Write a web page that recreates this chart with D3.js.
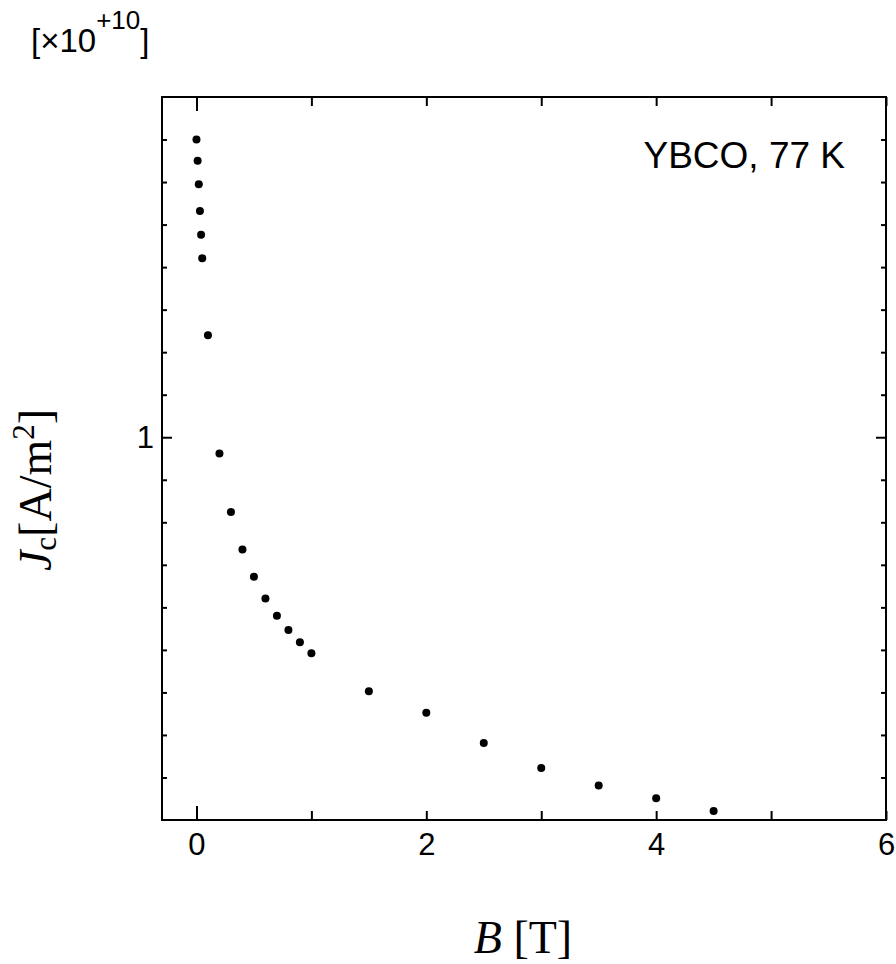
<!DOCTYPE html>
<html>
<head>
<meta charset="utf-8">
<script src="https://cdn.jsdelivr.net/npm/d3@7"></script>
<style>
  body { margin: 0; background: white; }
  svg { display: block; }
</style>
</head>
<body>
<script>
// data: B in tesla, Jc in units of 1e10 A/m^2
const fieldB = [0, 0.01, 0.02, 0.03, 0.04, 0.05, 0.1, 0.2, 0.3, 0.4, 0.5, 0.6, 0.7, 0.8, 0.9, 1.0, 1.5, 2.0, 2.5, 3.0, 3.5, 4.0, 4.5]
const currentJc = [1.700, 1.650, 1.595, 1.532, 1.476, 1.421, 1.240, 0.962, 0.824, 0.736, 0.672, 0.621, 0.580, 0.547, 0.518, 0.492, 0.403, 0.352, 0.281, 0.222, 0.181, 0.151, 0.121]

const xTicks = [0, 1, 2, 3, 4, 5, 6]
const xLabelled = [0, 2, 4, 6]
const yMinorTicks = [0.2, 0.3, 0.4, 0.5, 0.6, 0.7, 0.8, 0.9, 1.1, 1.2, 1.3, 1.4, 1.5, 1.6, 1.7]
const yMajorTicks = [1]

const width = 896
const height = 964
const plotLeft = 162, plotRight = 886, plotTop = 97, plotBottom = 820
const sans = "'Liberation Sans', Arial, sans-serif"
const serif = "'Liberation Serif', 'Times New Roman', serif"

const svg = d3.select("body").append("svg")
    .attr("width", width)
    .attr("height", height)

const x = d3.scaleLinear().domain([-0.3, 6]).range([plotLeft, plotRight])
const y = d3.scaleLinear().domain([0.1, 1.8]).range([plotBottom, plotTop])

// ticks point into the frame
function styleTicks(g) {
    g.select(".domain").remove()
    g.selectAll(".tick line").attr("stroke", "black").attr("stroke-width", 2)
    g.selectAll(".tick text").attr("fill", "black")
}

// bottom
svg.append("g")
    .attr("transform", `translate(0,${plotBottom})`)
    .call(d3.axisBottom(x).tickValues(xTicks).tickSize(-9).tickPadding(13)
        .tickFormat(d => xLabelled.includes(d) ? d : ""))
    .call(styleTicks)
    .call(g => g.selectAll(".tick line").filter(d => d === 0).attr("y2", -14))
    .attr("font-family", sans)
    .attr("font-size", 31)

// top
svg.append("g")
    .attr("transform", `translate(0,${plotTop})`)
    .call(d3.axisTop(x).tickValues(xTicks).tickSize(-9).tickFormat(""))
    .call(styleTicks)
    .call(g => g.selectAll(".tick line").filter(d => d === 0).attr("y2", 14))

// left
svg.append("g")
    .attr("transform", `translate(${plotLeft},0)`)
    .call(d3.axisLeft(y).tickValues(yMinorTicks).tickSize(-5).tickFormat(""))
    .call(styleTicks)
svg.append("g")
    .attr("transform", `translate(${plotLeft},0)`)
    .call(d3.axisLeft(y).tickValues(yMajorTicks).tickSize(-10).tickPadding(8).tickFormat(d => d))
    .call(styleTicks)
    .attr("font-family", sans)
    .attr("font-size", 31)

// right
svg.append("g")
    .attr("transform", `translate(${plotRight},0)`)
    .call(d3.axisRight(y).tickValues(yMinorTicks).tickSize(-5).tickFormat(""))
    .call(styleTicks)
svg.append("g")
    .attr("transform", `translate(${plotRight},0)`)
    .call(d3.axisRight(y).tickValues(yMajorTicks).tickSize(-10).tickFormat(""))
    .call(styleTicks)

// frame
svg.append("rect")
    .attr("x", plotLeft)
    .attr("y", plotTop)
    .attr("width", plotRight - plotLeft)
    .attr("height", plotBottom - plotTop)
    .attr("fill", "none")
    .attr("stroke", "black")
    .attr("stroke-width", 2)

// points
svg.append("g")
    .selectAll("circle")
    .data(fieldB)
    .join("circle")
    .attr("cx", d => x(d))
    .attr("cy", (d, i) => y(currentJc[i]))
    .attr("r", 4)
    .attr("fill", "black")

// scale factor above the axis
const factor = svg.append("text")
    .attr("x", 31)
    .attr("y", 52)
    .attr("font-family", sans)
    .attr("font-size", 33)
    .attr("fill", "black")
factor.append("tspan").text("[\u00d710")
factor.append("tspan").attr("dy", -23).attr("font-size", 26).text("+10")
factor.append("tspan").attr("dy", 23).text("]")

// label in the corner
svg.append("text")
    .attr("x", 845)
    .attr("y", 168)
    .attr("text-anchor", "end")
    .attr("font-family", sans)
    .attr("font-size", 37)
    .attr("fill", "black")
    .text("YBCO, 77 K")

// x title
const xt = svg.append("text")
    .attr("x", 523)
    .attr("y", 953)
    .attr("text-anchor", "middle")
    .attr("font-family", serif)
    .attr("font-size", 46)
    .attr("fill", "black")
xt.append("tspan").attr("font-style", "italic").text("B")
xt.append("tspan").text(" [T]")

// y title
const yt = svg.append("text")
    .attr("transform", "translate(51,490) rotate(-90)")
    .attr("text-anchor", "middle")
    .attr("font-family", serif)
    .attr("font-size", 46)
    .attr("fill", "black")
yt.append("tspan").attr("font-style", "italic").text("J")
yt.append("tspan").attr("font-size", 31).attr("dy", 5).text("c")
yt.append("tspan").attr("dy", -5).text("[A/m")
yt.append("tspan").attr("font-size", 31).attr("dy", -17).text("2")
yt.append("tspan").attr("dy", 17).text("]")
</script>
</body>
</html>
